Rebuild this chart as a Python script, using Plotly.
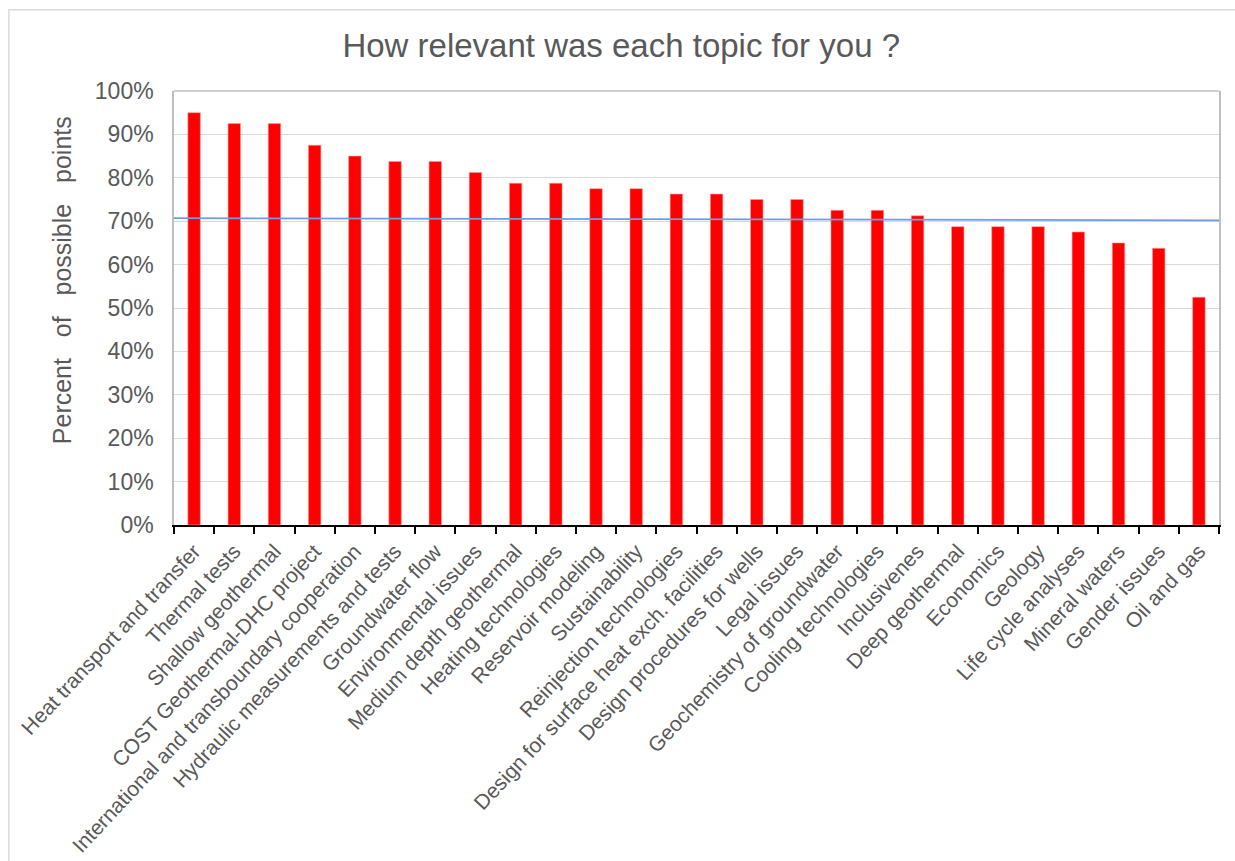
import plotly.graph_objects as go

categories = [
    "Heat transport and transfer", "Thermal tests", "Shallow geothermal",
    "COST Geothermal-DHC project", "International and transboundary cooperation",
    "Hydraulic measurements and tests", "Groundwater flow", "Environmental issues",
    "Medium depth geothermal", "Heating technologies", "Reservoir modeling",
    "Sustainability", "Reinjection technologies",
    "Design for surface heat exch. facilities", "Design procedures for wells",
    "Legal issues", "Geochemistry of groundwater", "Cooling technologies",
    "Inclusivenes", "Deep geothermal", "Economics", "Geology",
    "Life cycle analyses", "Mineral waters", "Gender issues", "Oil and gas",
]
percent_points = [
    95.0, 92.5, 92.5, 87.5, 85.0, 83.75, 83.75, 81.25, 78.75, 78.75, 77.5, 77.5,
    76.25, 76.25, 75.0, 75.0, 72.5, 72.5, 71.25, 68.75, 68.75, 68.75, 67.5, 65.0,
    63.75, 52.5,
]
ref_line_x = [0, 1]
ref_line_pct = [70.7, 70.2]
y_ticks = [0, 10, 20, 30, 40, 50, 60, 70, 80, 90, 100]
y_tick_labels = ["0%", "10%", "20%", "30%", "40%", "50%", "60%", "70%", "80%", "90%", "100%"]

GREY_TXT = "#595959"
FONT = "Liberation Sans, Arial, sans-serif"

fig = go.Figure()
fig.add_trace(go.Bar(
    x=categories, y=percent_points,
    marker=dict(color="#ff0000", line=dict(color="#ff9a9a", width=0.6)),
    showlegend=False, hoverinfo="x+y",
))
fig.add_trace(go.Scatter(
    x=ref_line_x, y=ref_line_pct, xaxis="x2", mode="lines",
    line=dict(color="#6f9be8", width=1.6), showlegend=False, cliponaxis=False,
))

fig.update_layout(
    width=1235, height=861,
    margin=dict(l=174, r=16, t=91, b=336, autoexpand=False),
    paper_bgcolor="white", plot_bgcolor="white",
    bargap=0.69,
    font=dict(family=FONT, color=GREY_TXT),
    title=dict(text="How relevant was each topic for you ?", x=0.503, xref="container",
               xanchor="center", y=1 - 45 / 861, yref="container", yanchor="middle",
               font=dict(size=33, color=GREY_TXT, family=FONT)),
    xaxis=dict(
        type="category", tickangle=-47, tickson="boundaries",
        ticks="outside", ticklen=7, tickcolor="#000000", tickwidth=1.5,
        showline=True, linecolor="#000000", linewidth=1.5,
        showgrid=False, tickfont=dict(size=21, color=GREY_TXT, family=FONT),
        automargin=False, ticklabelstandoff=4,
    ),
    xaxis2=dict(overlaying="x", range=[0, 1], visible=False, fixedrange=True),
    yaxis=dict(
        range=[0, 100], tickvals=y_ticks, ticktext=y_tick_labels,
        showgrid=True, gridcolor="#d9d9d9", gridwidth=1.2,
        showline=True, linecolor="#bfbfbf", linewidth=1.5, mirror=True,
        ticks="", tickfont=dict(size=23, color=GREY_TXT, family=FONT),
        ticklabelstandoff=14, automargin=False, zeroline=False,
    ),
    shapes=[
        dict(type="line", xref="paper", yref="paper", x0=0, x1=1, y0=1, y1=1,
             line=dict(color="#bfbfbf", width=1.5), layer="below"),
        dict(type="rect", xref="paper", yref="paper", x0=-0.158, x1=1.03,
             y0=-0.9, y1=1.187, line=dict(color="#d9d9d9", width=1.5),
             layer="below"),
    ],
    annotations=[
        dict(text="Percent\u00a0\u00a0\u00a0of\u00a0\u00a0\u00a0possible\u00a0\u00a0\u00a0points",
             xref="paper", yref="paper", x=-0.107, y=0.5645, textangle=-90,
             showarrow=False, xanchor="center", yanchor="middle",
             font=dict(size=25, color=GREY_TXT, family=FONT)),
    ],
)

fig.write_html("out.html")
